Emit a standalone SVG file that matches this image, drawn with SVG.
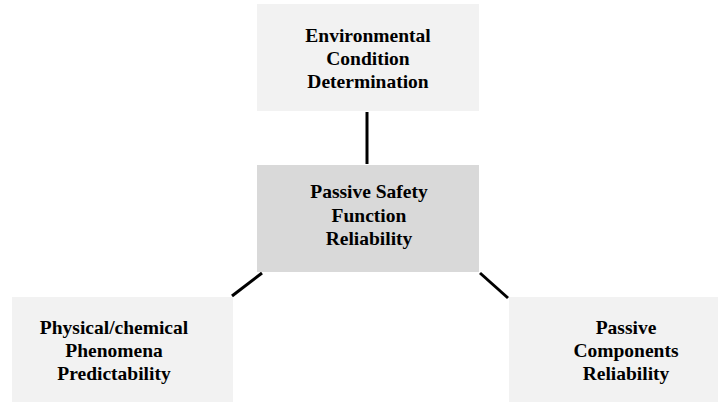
<svg xmlns="http://www.w3.org/2000/svg" width="718" height="402" viewBox="0 0 718 402">
<style>
.box{fill:#f2f2f2}
.main{fill:#d9d9d9}
.t{font-family:"Liberation Serif","Times New Roman",serif;font-weight:bold;font-size:19.5px;fill:#000;text-anchor:middle}
.c{stroke:#000;stroke-width:3;fill:none}
</style>
<rect width="718" height="402" fill="#fff"/>
<g id="connectors">
<line class="c" x1="367" y1="112" x2="367" y2="164"/>
<line class="c" x1="262" y1="273" x2="232" y2="296"/>
<line class="c" x1="480" y1="273" x2="508" y2="298"/>
</g>
<g id="env">
<rect class="box" x="257" y="4" width="222" height="107"/>
<text class="t" x="368" y="42">Environmental</text>
<text class="t" x="368" y="65">Condition</text>
<text class="t" x="368" y="88">Determination</text>
</g>
<g id="center">
<rect class="main" x="257" y="165" width="222" height="107"/>
<text class="t" x="369" y="198">Passive Safety</text>
<text class="t" x="369" y="222">Function</text>
<text class="t" x="369" y="245">Reliability</text>
</g>
<g id="phys">
<rect class="box" x="12" y="297" width="221" height="105"/>
<text class="t" x="114" y="334">Physical/chemical</text>
<text class="t" x="114" y="357">Phenomena</text>
<text class="t" x="114" y="380">Predictability</text>
</g>
<g id="comp">
<rect class="box" x="509" y="297" width="209" height="105"/>
<text class="t" x="626" y="334">Passive</text>
<text class="t" x="626" y="357">Components</text>
<text class="t" x="626" y="380">Reliability</text>
</g>
</svg>
